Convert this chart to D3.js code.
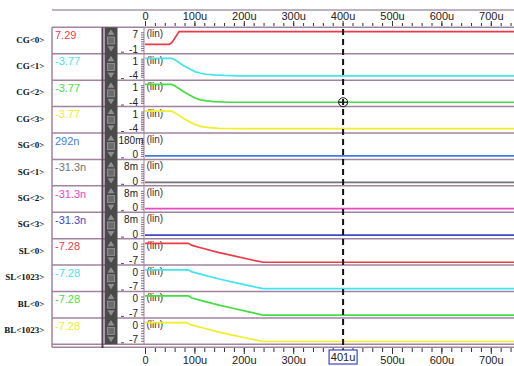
<!DOCTYPE html>
<html>
<head>
<meta charset="utf-8">
<script src="https://cdn.jsdelivr.net/npm/d3@7"></script>
<style>
body { margin: 0; background: #fff; }
svg { display: block; }
</style>
</head>
<body>
<svg id="chart" width="514" height="366"></svg>
<script>
// signal names, cursor readout and per-row y ranges
var names = ["CG<0>", "CG<1>", "CG<2>", "CG<3>", "SG<0>", "SG<1>", "SG<2>", "SG<3>", "SL<0>", "SL<1023>", "BL<0>", "BL<1023>"];
var readout = ["7.29", "-3.77", "-3.77", "-3.77", "292n", "-31.3n", "-31.3n", "-31.3n", "-7.28", "-7.28", "-7.28", "-7.28"];
var rangeHi = [7, 1, 1, 1, 0.18, 0.008, 0.008, 0.008, 0, 0, 0, 0];
var rangeLo = [-1, -4, -4, -4, 0, 0, 0, 0, -7, -7, -7, -7];
var hiLabel = ["7", "1", "1", "1", "180m", "8m", "8m", "8m", "0", "0", "0", "0"];
var loLabel = ["-1", "-4", "-4", "-4", "0", "0", "0", "0", "-7", "-7", "-7", "-7"];
var colours = ["#ec3b47", "#41e4f0", "#44de44", "#eeee2a", "#3f7de0", "#737373", "#ee46c4", "#3d48cc", "#ec3b47", "#41e4f0", "#44de44", "#eeee2a"];

// waveforms, time in us
var cg0T = [0, 49, 55, 69, 750];
var cg0V = [1.6, 1.6, 2.6, 7.29, 7.29];
var cg1T = [0, 54, 60, 70, 80, 91, 101, 112, 125, 140, 160, 190, 750];
var cg1V = [1.1, 1.1, 0.7, -0.2, -1.1, -1.9, -2.6, -3.05, -3.33, -3.52, -3.66, -3.77, -3.77];
var cg2T = [0, 54, 60, 70, 80, 91, 101, 112, 125, 140, 170, 750];
var cg2V = [1.2, 1.2, 0.8, -0.1, -1.0, -1.8, -2.6, -3.1, -3.4, -3.6, -3.77, -3.77];
var cg3T = [0, 54, 60, 70, 80, 91, 101, 115, 130, 150, 192, 750];
var cg3V = [1.1, 1.1, 0.7, -0.2, -1.1, -1.9, -2.6, -3.2, -3.5, -3.68, -3.77, -3.77];
var sgT = [0, 750];
var sg0V = [292e-9, 292e-9];
var sg1V = [-31.3e-9, -31.3e-9];
var sg2V = [-31.3e-9, -31.3e-9];
var sg3V = [-31.3e-9, -31.3e-9];
var slT = [0, 88, 95, 120, 150, 180, 210, 239, 750];
var sl0V = [0.1, 0.1, -0.7, -2.0, -3.5, -4.8, -6.1, -7.28, -7.28];
var sl1V = [0.05, 0.05, -0.7, -2.0, -3.5, -4.8, -6.1, -7.28, -7.28];
var bl0V = [0.2, 0.2, -0.6, -1.9, -3.4, -4.7, -6.0, -7.28, -7.28];
var bl1T = [0, 84, 92, 120, 150, 180, 210, 239, 750];
var bl1V = [0.1, 0.1, -0.7, -2.1, -3.6, -4.9, -6.1, -7.28, -7.28];

var waveT = [cg0T, cg1T, cg2T, cg3T, sgT, sgT, sgT, sgT, slT, slT, slT, bl1T];
var waveV = [cg0V, cg1V, cg2V, cg3V, sg0V, sg1V, sg2V, sg3V, sl0V, sl1V, bl0V, bl1V];

var cursorTime = 401;
var cursorRow = 2;
var cursorValue = -3.77;

var svg = d3.select("#chart");
var sans = "'Liberation Sans', Arial, sans-serif";
var lineCol = "#a083a0";

var x = d3.scaleLinear().domain([0, 750]).range([145, 515.5]);
var row = d3.scaleBand().domain(names).range([27.3, 344.3]);
var bw = row.bandwidth();

function yScale(i){
	var t = row(names[i]);
	return d3.scaleLinear().domain([rangeLo[i], rangeHi[i]]).range([t + bw - 3.5, t + 5]);
}

// frame lines
svg.append("line").attr("x1", 52).attr("x2", 514).attr("y1", 10).attr("y2", 10)
	.attr("stroke", "#a898a8").attr("stroke-width", 1.5);

var rowLines = names.map(function(n){ return row(n); }).concat([344.3, 347.3]);
svg.append("g").selectAll("line").data(rowLines).enter().append("line")
	.attr("x1", 52).attr("x2", 514)
	.attr("y1", function(d){ return d; }).attr("y2", function(d){ return d; })
	.attr("stroke", lineCol).attr("stroke-width", 1.5);

svg.append("line").attr("x1", 52).attr("x2", 52).attr("y1", 27.3).attr("y2", 347.3)
	.attr("stroke", lineCol).attr("stroke-width", 1.5);
svg.append("line").attr("x1", 102.5).attr("x2", 102.5).attr("y1", 27.3).attr("y2", 348)
	.attr("stroke", "#5b3b5b").attr("stroke-width", 2);

// scroll strip
svg.append("rect").attr("x", 104.5).attr("y", 27.3).attr("width", 13).attr("height", 317)
	.attr("fill", "#4a4a4a");
names.forEach(function(n){
	var t = row(n), b = t + bw;
	svg.append("path").attr("d", "M111," + (t + 1.5) + "L106.8," + (t + 8) + "L115.2," + (t + 8) + "Z")
		.attr("fill", "#8e8e8e").attr("stroke", "#333").attr("stroke-width", 0.5);
	svg.append("rect").attr("x", 107.5).attr("y", t + 9.7).attr("width", 7).attr("height", 7)
		.attr("fill", "#6c6c6c").attr("stroke", "#9a9a9a").attr("stroke-width", 0.8);
	svg.append("path").attr("d", "M106.8," + (b - 8) + "L115.2," + (b - 8) + "L111," + (b - 1.5) + "Z")
		.attr("fill", "#8e8e8e").attr("stroke", "#333").attr("stroke-width", 0.5);
	svg.append("line").attr("x1", 121).attr("x2", 124).attr("y1", b - 1.5).attr("y2", b - 1.5)
		.attr("stroke", "#555").attr("stroke-width", 1);
});

// signal names
svg.append("g").selectAll("text").data(names).enter().append("text")
	.attr("x", 44.5)
	.attr("y", function(d){ return row(d) + bw / 2 + 2; })
	.attr("text-anchor", "end")
	.attr("font-family", "'Liberation Serif', 'Times New Roman', serif")
	.attr("font-weight", "bold")
	.attr("font-size", 9)
	.attr("fill", "#111")
	.text(function(d){ return d; });

// cursor readout values
svg.append("g").selectAll("text").data(readout).enter().append("text")
	.attr("x", 55)
	.attr("y", function(d, i){ return row(names[i]) + 11.7; })
	.attr("font-family", sans)
	.attr("font-size", 11)
	.attr("fill", function(d, i){ return colours[i]; })
	.text(function(d){ return d; });

// per-row y axes
svg.append("line").attr("x1", 144).attr("x2", 144).attr("y1", 27.3).attr("y2", 344.3)
	.attr("stroke", lineCol).attr("stroke-width", 1);

names.forEach(function(n, i){
	var y = yScale(i), t = row(n);
	var ax = svg.append("g").attr("transform", "translate(144,0)")
		.call(d3.axisLeft(y).ticks(8).tickSize(3).tickFormat(""));
	ax.select(".domain").remove();
	ax.selectAll("line").attr("stroke", "#8a6a8a");

	var hi = svg.append("text").attr("x", 138).attr("y", t + 11).attr("text-anchor", "end")
		.attr("font-family", sans).attr("font-size", 10).attr("fill", "#222").text(hiLabel[i]);
	// keep wide labels clear of the scroll strip
	if (hi.node().getBBox().x < 118.5) hi.attr("text-anchor", "start").attr("x", 118.5);
	svg.append("text").attr("x", 138).attr("y", t + bw - 1).attr("text-anchor", "end")
		.attr("font-family", sans).attr("font-size", 10).attr("fill", "#222").text(loLabel[i]);
	svg.append("text").attr("x", 146.5).attr("y", t + 10).attr("font-family", sans)
		.attr("font-size", 10).attr("fill", "#333").text("(lin)");
});

// waveforms
var plot = svg.append("g");
names.forEach(function(n, i){
	var y = yScale(i);
	var pts = waveT[i].map(function(t, k){ return [t, waveV[i][k]]; });
	var line = d3.line().x(function(d){ return x(d[0]); }).y(function(d){ return y(d[1]); });
	plot.append("path").datum(pts)
		.attr("d", line)
		.attr("fill", "none")
		.attr("stroke", colours[i])
		.attr("stroke-width", 1.7);
});

// time axes
function fmt(d){ return d === 0 ? "0" : d + "u"; }
var majors = d3.range(0, 800, 100);
var minors = d3.range(0, 760, 20);

function styleAxis(g){
	g.select(".domain").remove();
	g.selectAll("line").attr("stroke", "#333");
	g.selectAll("text").attr("font-family", sans).attr("font-size", 11).attr("fill", "#222");
}

svg.append("g").attr("transform", "translate(0,26)")
	.call(d3.axisTop(x).tickValues(minors).tickSize(3).tickFormat("")).call(styleAxis);
svg.append("g").attr("transform", "translate(0,26)")
	.call(d3.axisTop(x).tickValues(majors).tickSize(5).tickPadding(1.5).tickFormat(fmt)).call(styleAxis);

svg.append("g").attr("transform", "translate(0,348)")
	.call(d3.axisBottom(x).tickValues(minors).tickSize(4).tickFormat("")).call(styleAxis);
svg.append("g").attr("transform", "translate(0,348)")
	.call(d3.axisBottom(x).tickValues(majors).tickSize(6).tickPadding(2.5)
		.tickFormat(function(d){ return d === 400 ? "" : fmt(d); })).call(styleAxis);

// cursor
var cx = x(cursorTime);
svg.append("line").attr("x1", cx).attr("x2", cx).attr("y1", 29).attr("y2", 350)
	.attr("stroke", "#111").attr("stroke-width", 2).attr("stroke-dasharray", "6,4");

var my = yScale(cursorRow)(cursorValue);
svg.append("circle").attr("cx", cx).attr("cy", my).attr("r", 4.5)
	.attr("fill", "none").attr("stroke", "#111").attr("stroke-width", 1);
svg.append("line").attr("x1", cx - 4.5).attr("x2", cx + 4.5).attr("y1", my).attr("y2", my)
	.attr("stroke", "#111").attr("stroke-width", 1);

svg.append("rect").attr("x", cx - 14).attr("y", 350).attr("width", 28).attr("height", 14)
	.attr("fill", "#fff").attr("stroke", "#3a46c8").attr("stroke-width", 1.2);
svg.append("text").attr("x", cx).attr("y", 361).attr("text-anchor", "middle")
	.attr("font-family", sans).attr("font-size", 11).attr("fill", "#222").text(cursorTime + "u");
</script>
</body>
</html>
